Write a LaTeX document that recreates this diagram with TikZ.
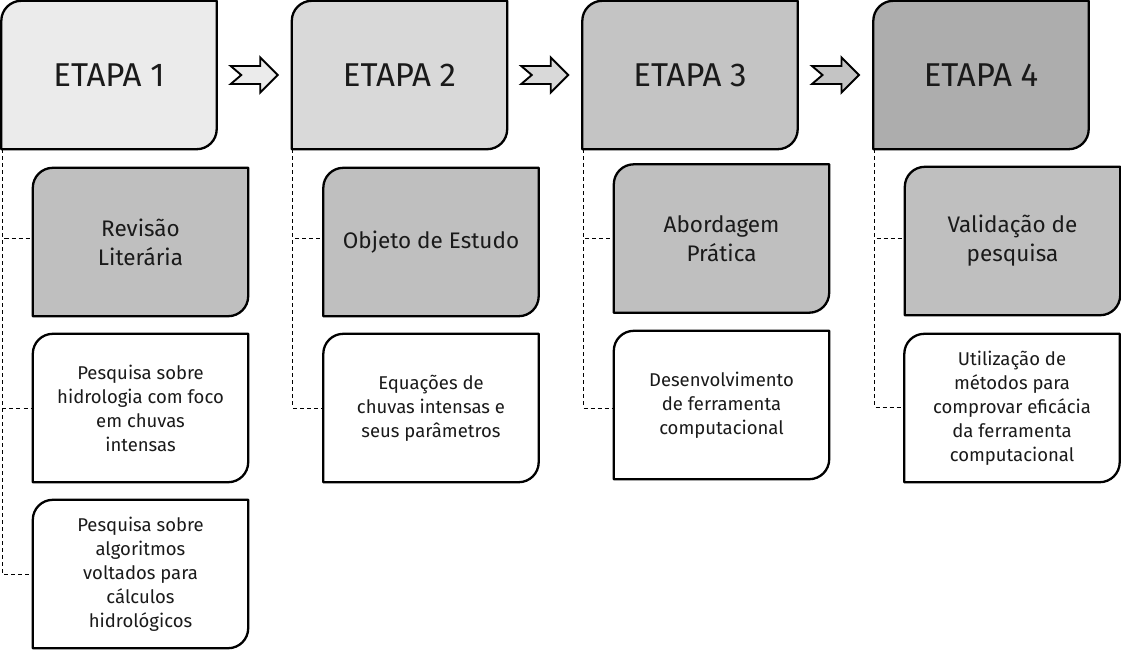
\documentclass[tikz,border=0pt]{standalone}
\usepackage{fontspec}
\setmainfont{Fira Sans}
\usetikzlibrary{backgrounds,calc}
\definecolor{cA}{HTML}{EBEBEB}
\definecolor{cB}{HTML}{D9D9D9}
\definecolor{cC}{HTML}{C4C4C4}
\definecolor{cD}{HTML}{ADADAD}
\definecolor{cS}{HTML}{BFBFBF}
\definecolor{ink}{HTML}{1A1A1A}
\newcommand\stepoutline[2]{%
  \draw[outl,fill=#2] (#1.south west) -- ([yshift=-20pt]#1.north west)
    arc[start angle=180,end angle=90,radius=20pt] -- (#1.north east)
    -- ([yshift=20pt]#1.south east)
    arc[start angle=0,end angle=-90,radius=20pt] -- cycle;}
\newcommand\blockarrow[2]{%
  \draw[arr,fill=#2,shift={(#1)}] (-23.5,-9) -- (6,-9) -- (6,-17.5) -- (23.5,0)
    -- (6,17.5) -- (6,9) -- (-23.5,9) -- (-13,0) -- cycle;}
\begin{document}
\begin{tikzpicture}[x=1pt,y=-1pt,
  outl/.style={line width=2.3pt,draw=black,line join=round},
  arr/.style={line width=1.9pt,draw=black,line join=miter},
  boxn/.style={inner sep=0pt,minimum width=215pt,minimum height=148pt,align=center,text=ink},
  etapa/.style={boxn,font=\fontsize{33}{40}\selectfont},
  head/.style={boxn,font=\fontsize{22.5}{29}\selectfont},
  body/.style={boxn,font=\fontsize{18.5}{24}\selectfont},
  link/.style={line width=1pt,draw=black,dash pattern=on 4pt off 3pt}]
\useasboundingbox (0,0) rectangle (1121,649);

% main stage nodes
\node[etapa] (e1) at (109,75) {ETAPA 1};
\node[etapa] (e2) at (399.5,75) {ETAPA 2};
\node[etapa] (e3) at (690,75) {ETAPA 3};
\node[etapa] (e4) at (981,75) {ETAPA 4};

% sub nodes
\node[head] (r1) at (140.5,242) {Revisão\\Literária};
\node[body] (p1) at (140.5,408) {Pesquisa sobre\\hidrologia com foco\\em chuvas\\intensas};
\node[body] (p2) at (140.5,574) {Pesquisa sobre\\algoritmos\\voltados para\\cálculos\\hidrológicos};
\node[head] (o2) at (431,242) {Objeto de Estudo};
\node[body] (q2) at (431,408) {Equações de\\chuvas intensas e\\seus parâmetros};
\node[head] (a3) at (721.5,238.5) {Abordagem\\Prática};
\node[body] (d3) at (721.5,405) {Desenvolvimento\\de ferramenta\\computacional};
\node[head] (v4) at (1012.5,241) {Validação de\\pesquisa};
\node[body] (u4) at (1012,408) {Utilização de\\métodos para\\comprovar eficácia\\da ferramenta\\computacional};

\coordinate (m1) at ($(e1.east)!0.5!(e2.west)$);
\coordinate (m2) at ($(e2.east)!0.5!(e3.west)$);
\coordinate (m3) at ($(e3.east)!0.5!(e4.west)$);

\begin{scope}[on background layer]
  \fill[white] (0,0) rectangle (1121,649);
  \stepoutline{e1}{cA}
  \stepoutline{e2}{cB}
  \stepoutline{e3}{cC}
  \stepoutline{e4}{cD}
  \stepoutline{r1}{cS}
  \stepoutline{o2}{cS}
  \stepoutline{a3}{cS}
  \stepoutline{v4}{cS}
  \stepoutline{p1}{white}
  \stepoutline{p2}{white}
  \stepoutline{q2}{white}
  \stepoutline{d3}{white}
  \stepoutline{u4}{white}
  % dashed links
  \draw[link] ([xshift=1pt]e1.south west) |- ([yshift=4pt]r1.west);
  \draw[link] ([xshift=1pt]e1.south west) |- (p1.west);
  \draw[link] ([xshift=1pt]e1.south west) |- (p2.west);
  \draw[link] ([xshift=1pt]e2.south west) |- ([yshift=4pt]o2.west);
  \draw[link] ([xshift=1pt]e2.south west) |- (q2.west);
  \draw[link] ([xshift=1pt]e3.south west) |- (a3.west);
  \draw[link] ([xshift=1pt]e3.south west) |- ([yshift=-3pt]d3.west);
  \draw[link] ([xshift=1pt]e4.south west) |- ([yshift=3pt]v4.west);
  \draw[link] ([xshift=1pt]e4.south west) |- ([yshift=1pt]u4.west);
\end{scope}

\blockarrow{m1}{cA}
\blockarrow{m2}{cB}
\blockarrow{m3}{cC}
\end{tikzpicture}
\end{document}
